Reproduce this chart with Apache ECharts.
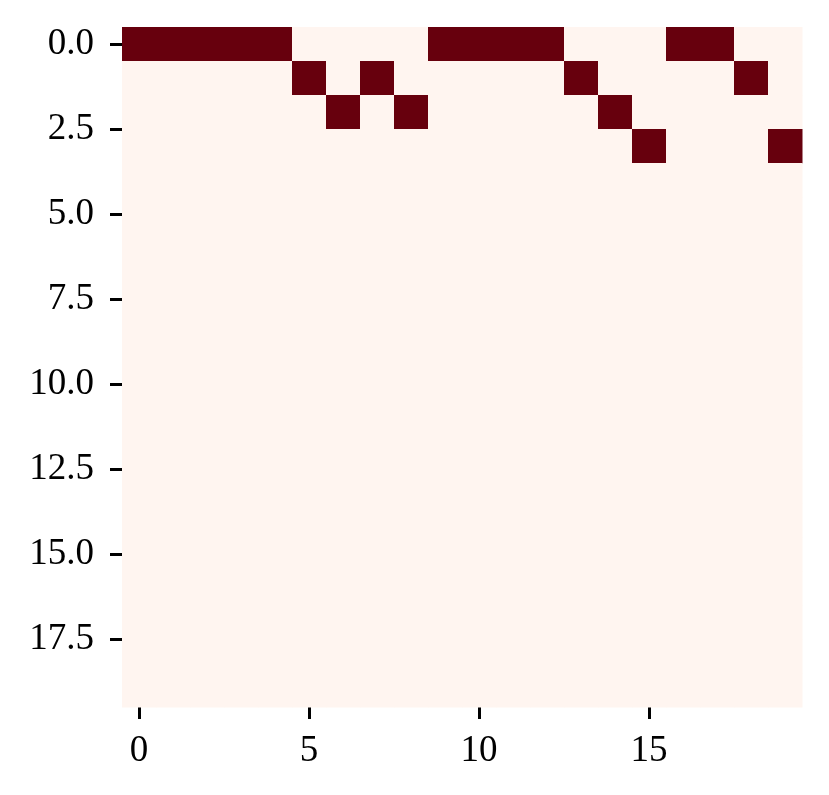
<!DOCTYPE html>
<html>
<head>
<meta charset="utf-8">
<script src="https://cdn.jsdelivr.net/npm/echarts@6/dist/echarts.min.js"></script>
<style>
html, body { margin: 0; padding: 0; background: #fff; }
#chart { width: 829px; height: 795px; }
</style>
</head>
<body>
<div id="chart"></div>
<script>
// 20x20 binary matrix, only the "on" cells listed as [col, row]
var nRows = 20;
var nCols = 20;
var onCells = [
    [0, 0], [1, 0], [2, 0], [3, 0], [4, 0],
    [9, 0], [10, 0], [11, 0], [12, 0],
    [16, 0], [17, 0],
    [5, 1], [7, 1], [13, 1], [18, 1],
    [6, 2], [8, 2], [14, 2],
    [15, 3], [19, 3]
];
var xTicks = [0, 5, 10, 15];
var yTicks = [0, 2.5, 5, 7.5, 10, 12.5, 15, 17.5];

var dom = document.getElementById("chart");
var myChart = echarts.init(dom);

var lookup = {};
onCells.forEach(function (c) { lookup[c[0] + '_' + c[1]] = 1; });
var cells = [];
for (var r = 0; r < nRows; r++) {
    for (var c = 0; c < nCols; c++) {
        cells.push([c, r, lookup[c + '_' + r] ? 1 : 0]);
    }
}

var font = '"Liberation Serif", "DejaVu Serif", serif';

var option = {
    animation: false,
    backgroundColor: '#ffffff',
    grid: { left: 122, right: 27, top: 27, bottom: 88 },
    xAxis: {
        type: 'value',
        min: -0.5,
        max: nCols - 0.5,
        axisLine: { show: false, onZero: false },
        splitLine: { show: false },
        axisTick: {
            show: true,
            length: 12,
            lineStyle: { color: '#000', width: 3 },
            customValues: xTicks
        },
        axisLabel: {
            customValues: xTicks,
            fontFamily: font,
            fontSize: 37,
            color: '#000',
            margin: 26
        }
    },
    yAxis: {
        type: 'value',
        inverse: true,
        min: -0.5,
        max: nRows - 0.5,
        axisLine: { show: false, onZero: false },
        splitLine: { show: false },
        axisTick: {
            show: true,
            length: 12,
            lineStyle: { color: '#000', width: 3 },
            customValues: yTicks
        },
        axisLabel: {
            customValues: yTicks,
            fontFamily: font,
            fontSize: 37,
            color: '#000',
            margin: 28,
            formatter: function (v) { return v.toFixed(1); }
        }
    },
    series: [{
        type: 'custom',
        data: cells,
        renderItem: function (params, api) {
            var x = api.value(0), y = api.value(1);
            var p0 = api.coord([x - 0.5, y - 0.5]);
            var p1 = api.coord([x + 0.5, y + 0.5]);
            return {
                type: 'rect',
                shape: {
                    x: Math.min(p0[0], p1[0]),
                    y: Math.min(p0[1], p1[1]),
                    width: Math.abs(p1[0] - p0[0]) + 0.5,
                    height: Math.abs(p1[1] - p0[1]) + 0.5
                },
                style: { fill: api.value(2) ? '#67000d' : '#fff5f0' }
            };
        }
    }]
};

if (option && typeof option === "object") {
    myChart.setOption(option, true);
}
</script>
</body>
</html>
